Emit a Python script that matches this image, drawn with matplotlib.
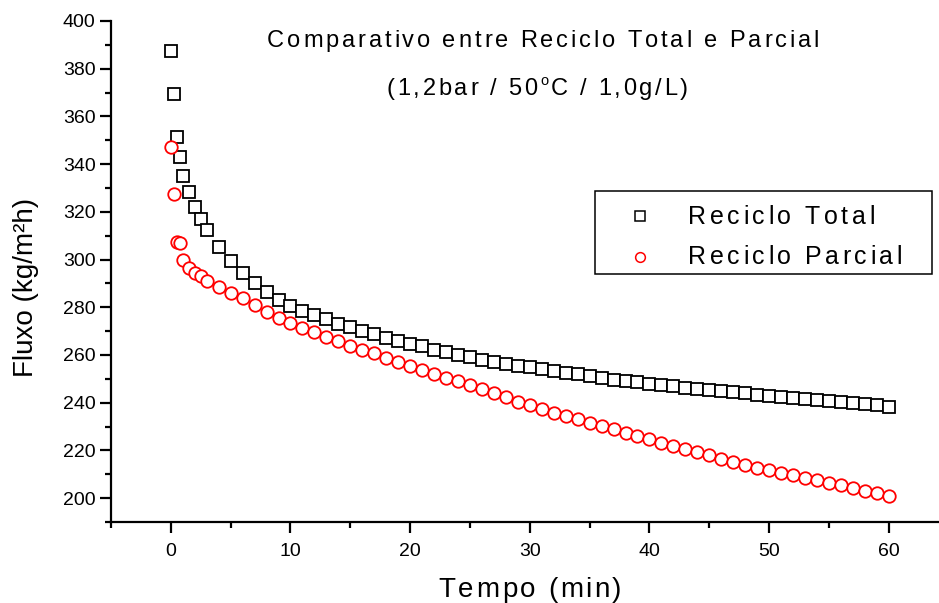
import matplotlib
matplotlib.use("Agg")
import matplotlib.pyplot as plt
from matplotlib import font_manager
from matplotlib.lines import Line2D
from matplotlib.patches import Rectangle
from matplotlib.ticker import MultipleLocator
from matplotlib.transforms import offset_copy

plt.rcParams['font.family'] = ['Liberation Sans', 'DejaVu Sans']

# tempo (min)
tempo = [0, 0.25, 0.5, 0.75, 1, 1.5, 2, 2.5, 3, 4, 5, 6, 7, 8, 9, 10,
         11, 12, 13, 14, 15, 16, 17, 18, 19, 20, 21, 22, 23, 24, 25,
         26, 27, 28, 29, 30, 31, 32, 33, 34, 35, 36, 37, 38, 39, 40,
         41, 42, 43, 44, 45, 46, 47, 48, 49, 50, 51, 52, 53, 54, 55,
         56, 57, 58, 59, 60]

# fluxo (kg/m2h)
reciclo_total = [387.6, 369.4, 351.2, 342.8, 335.0, 328.4, 322.1, 316.8, 312.4, 305.1,
                 299.5, 294.2, 290.0, 286.2, 283.0, 280.5, 278.4, 276.6, 275.0, 273.2,
                 271.7, 270.2, 268.6, 267.2, 266.0, 264.7, 263.6, 262.3, 261.2, 260.1,
                 259.0, 258.0, 257.2, 256.3, 255.5, 254.8, 254.0, 253.3, 252.5, 252.0,
                 251.2, 250.4, 249.7, 249.1, 248.5, 247.9, 247.3, 246.8, 246.2, 245.8,
                 245.3, 244.9, 244.3, 243.9, 243.3, 242.8, 242.3, 241.9, 241.5, 241.1,
                 240.7, 240.3, 239.8, 239.4, 238.9, 238.3]

reciclo_parcial = [347.0, 327.3, 307.2, 307.1, 299.8, 296.3, 294.5, 293.2, 291.2, 288.6,
                   286.1, 283.8, 281.1, 278.2, 275.6, 273.5, 271.4, 269.5, 267.6, 266.0,
                   263.9, 262.3, 260.7, 258.7, 256.9, 255.4, 253.7, 251.9, 250.4, 249.0,
                   247.3, 245.6, 243.9, 242.2, 240.5, 238.9, 237.3, 235.8, 234.4, 233.0,
                   231.6, 230.2, 228.8, 227.4, 226.0, 224.6, 223.2, 221.8, 220.4, 219.2,
                   218.0, 216.6, 215.3, 214.1, 212.8, 211.7, 210.6, 209.6, 208.4, 207.4,
                   206.3, 205.3, 204.3, 203.2, 202.2, 201.1]

labels = ['Reciclo Total', 'Reciclo Parcial']
title = 'Comparativo entre Reciclo Total e Parcial'
subtitle = [('(1,2bar / 50', 1.0), ('o', 0.62), ('C / 1,0g/L)', 1.0)]

FONT_PATH = font_manager.findfont(font_manager.FontProperties(family='Liberation Sans'))


def char_advances(s, size):
    font = font_manager.get_font(FONT_PATH)
    font.set_size(size, 72)
    return [font.load_char(ord(c)).linearHoriAdvance / 65536 for c in s]


def spaced_text(fig, x, y, parts, size, track_px, ha='center'):
    # text with extra letter spacing (the original uses wide tracking)
    if isinstance(parts, str):
        parts = [(parts, 1.0)]
    track = track_px * 72 / fig.dpi
    items = []
    for s, scale in parts:
        for c, a in zip(s, char_advances(s, size * scale)):
            items.append((c, scale, a))
    total = sum(a for _, _, a in items) + track * (len(items) - 1)
    pos = -total / 2 if ha == 'center' else 0
    for c, scale, a in items:
        rise = 0 if scale == 1.0 else size * 0.42
        tr = offset_copy(fig.transFigure, fig=fig, x=pos, y=rise, units='points')
        fig.text(x, y, c, fontsize=size * scale, transform=tr, ha='left', va='baseline')
        pos += a + track


fig = plt.figure(figsize=(9.39, 6.03), dpi=100)
W, H = 939, 603
ax = fig.add_axes([111 / W, 81 / H, 828 / W, 501 / H])

ax.plot(tempo, reciclo_total, ls='none', marker='s', ms=8.5, mfc='white',
        mec='black', mew=1.3)
ax.plot(tempo, reciclo_parcial, ls='none', marker='o', ms=9.0, mfc='white',
        mec='red', mew=1.3)

ax.set_xlim(-5, 64.2)
ax.set_ylim(190, 400)

ax.xaxis.set_major_locator(MultipleLocator(10))
ax.xaxis.set_minor_locator(MultipleLocator(5))
ax.yaxis.set_major_locator(MultipleLocator(20))
ax.yaxis.set_minor_locator(MultipleLocator(10))

for s in ['top', 'right']:
    ax.spines[s].set_visible(False)
for s in ['left', 'bottom']:
    ax.spines[s].set_linewidth(1.6)

ax.tick_params(which='major', direction='out', length=8, width=1.6, labelsize=14)
ax.tick_params(which='minor', direction='out', length=4.5, width=1.6)
ax.tick_params(axis='y', which='major', pad=3)
ax.tick_params(axis='x', which='major', pad=7)

fig.text(26 / W, 1 - 287 / H, 'Fluxo (kg/m²h)', fontsize=20, rotation=90,
         ha='center', va='center')
spaced_text(fig, 530 / W, 1 - 597 / H, 'Tempo (min)', 20, 2.5)

spaced_text(fig, 543 / W, 1 - 47 / H, title, 17, 2.9)
spaced_text(fig, 537.5 / W, 1 - 95 / H, subtitle, 17, 2.7)

# legend box drawn by hand so the labels can keep the wide letter spacing
fig.add_artist(Rectangle((595 / W, 1 - 274 / H), 337 / W, 83 / H,
                         transform=fig.transFigure, fill=False, ec='black', lw=1.1))
fig.add_artist(Line2D([640 / W], [1 - 216 / H], transform=fig.transFigure, ls='none',
                      marker='s', ms=6.5, mfc='white', mec='black', mew=1.1))
fig.add_artist(Line2D([640 / W], [1 - 257 / H], transform=fig.transFigure, ls='none',
                      marker='o', ms=7, mfc='white', mec='red', mew=1.1))
spaced_text(fig, 688 / W, 1 - 224 / H, labels[0], 18, 3.5, ha='left')
spaced_text(fig, 688 / W, 1 - 264 / H, labels[1], 18, 3.5, ha='left')

fig.savefig('out.png', dpi=100)
